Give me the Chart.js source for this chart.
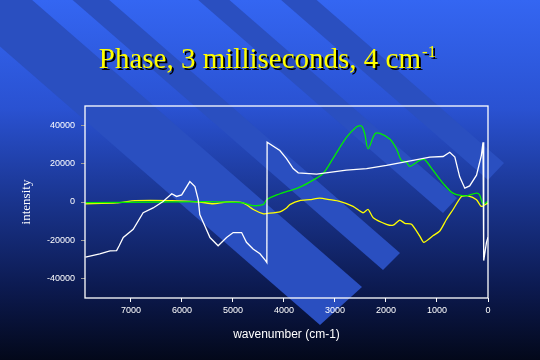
<!DOCTYPE html>
<html>
<head>
<meta charset="utf-8">
<script src="https://cdn.jsdelivr.net/npm/chart.js@4"></script>
<style>
  html, body { margin: 0; padding: 0; background: #03081a; }
  #wrap { width: 540px; height: 360px; }
</style>
</head>
<body>
<div id="wrap"><canvas id="phaseChart" width="540" height="360"></canvas></div>
<script>
// tick labels
const xTicks = [7000, 6000, 5000, 4000, 3000, 2000, 1000, 0];
const yTicks = [-40000, -20000, 0, 20000, 40000];

// white trace
const whiteWn = [7890, 7610, 7410, 7280, 7230, 7150, 6955, 6760, 6565, 6370, 6200, 6105, 6005, 5845, 5745, 5680, 5650, 5550, 5450, 5290, 5125, 4995, 4830, 4735, 4605, 4470, 4360, 4335, 4330, 4080, 3950, 3820, 3720, 3360, 2775, 2380, 1990, 1470, 1140, 880, 750, 650, 555, 455, 360, 225, 130, 98, 84, 30, 0];
const whiteVals = [-28700, -27000, -25500, -25300, -22800, -18500, -14200, -5600, -3100, 300, 4300, 2900, 3700, 10600, 8000, 1200, -6500, -12500, -18500, -22800, -18500, -15900, -15900, -21000, -24500, -27000, -30500, -31500, 31100, 26800, 22600, 17400, 15200, 14500, 16600, 17400, 19100, 21700, 23400, 23700, 25900, 23400, 13100, 7200, 8400, 14000, 24300, 31100, -30500, -21000, -18300];

// green trace
const greenWn = [7890, 6500, 5500, 4800, 4600, 4400, 4340, 4080, 3950, 3885, 3690, 3430, 3230, 3040, 2775, 2580, 2480, 2415, 2350, 2220, 2120, 1925, 1795, 1700, 1600, 1535, 1340, 1240, 1080, 880, 685, 425, 225, 165, 98, 0];
const greenVals = [-300, 0, 200, -500, -1900, -1200, 1200, 4300, 5400, 5900, 7700, 11400, 14900, 22600, 33600, 39100, 39600, 35400, 27700, 35400, 35700, 32800, 27700, 21700, 20800, 18600, 21700, 22000, 16600, 9700, 4600, 3200, 4600, 3700, -900, 300];

// yellow trace
const yellowWn = [7890, 7280, 6920, 6200, 5650, 5390, 5130, 4800, 4600, 4400, 4340, 4080, 3950, 3885, 3690, 3490, 3300, 3100, 2905, 2645, 2450, 2350, 2250, 1990, 1860, 1730, 1630, 1500, 1340, 1260, 1080, 945, 815, 685, 520, 390, 225, 130, 0];
const yellowVals = [-900, -500, 700, 700, 0, -900, 0, -500, -3900, -6200, -6000, -5100, -3100, -1400, 700, 1200, 2000, 1200, 300, -2300, -5600, -3900, -8200, -11600, -12100, -9400, -11100, -11600, -17600, -21000, -17600, -15100, -9100, -3900, 2900, 3200, 1200, -2300, -500];

function toPoints(xs, ys) {
    return xs.map((x, i) => ({ x: x, y: ys[i] }));
}

// slide background: vertical gradient + flat diagonal bands
const slideBackground = {
    id: 'slideBackground',
    beforeDraw(chart) {
        const ctx = chart.ctx;
        const w = chart.width, h = chart.height;
        ctx.save();
        const g = ctx.createLinearGradient(0, 0, 0, h);
        g.addColorStop(0, '#3466f2');
        g.addColorStop(0.3, '#2a52d2');
        g.addColorStop(0.55, '#1a3590');
        g.addColorStop(0.8, '#0c1a50');
        g.addColorStop(1, '#03081a');
        ctx.fillStyle = g;
        ctx.fillRect(0, 0, w, h);

        // each band: its two lower-right end corners, runs up-left off the canvas
        const bands = [
            [[362, 287], [320, 325]],
            [[400, 253], [383, 270]],
            [[457, 198], [443, 213]],
            [[504, 163], [488, 180]]
        ];
        const dx = Math.cos(Math.atan(0.87)), dy = Math.sin(Math.atan(0.87));
        ctx.fillStyle = '#2a4fc0';
        bands.forEach(b => {
            const [a, c] = b;
            ctx.beginPath();
            ctx.moveTo(a[0], a[1]);
            ctx.lineTo(c[0], c[1]);
            ctx.lineTo(c[0] - dx * 1000, c[1] - dy * 1000);
            ctx.lineTo(a[0] - dx * 1000, a[1] - dy * 1000);
            ctx.closePath();
            ctx.fill();
        });
        ctx.restore();
    }
};

// white frame round the plot and the slide title
const frameAndTitle = {
    id: 'frameAndTitle',
    afterDraw(chart) {
        const ctx = chart.ctx;
        const a = chart.chartArea;
        ctx.save();
        ctx.strokeStyle = '#ffffff';
        ctx.lineWidth = 1.3;
        ctx.strokeRect(a.left, a.top, a.right - a.left, a.bottom - a.top);

        const main = 'Phase, 3 milliseconds, 4 cm';
        const sup = '-1';
        ctx.font = '29px "Liberation Serif", "Times New Roman", serif';
        const mw = ctx.measureText(main).width;
        ctx.font = '17px "Liberation Serif", "Times New Roman", serif';
        const sw = ctx.measureText(sup).width;
        const x0 = 267 - (mw + sw) / 2;
        const base = 68;
        ctx.textBaseline = 'alphabetic';
        ctx.textAlign = 'left';
        [['#000000', 2], ['#ffff00', 0]].forEach(([col, off]) => {
            ctx.fillStyle = col;
            ctx.font = '29px "Liberation Serif", "Times New Roman", serif';
            ctx.fillText(main, x0 + off, base + off);
            ctx.font = '17px "Liberation Serif", "Times New Roman", serif';
            ctx.fillText(sup, x0 + mw + 1 + off, base - 11 + off);
        });
        ctx.restore();
    }
};

const ctx = document.getElementById('phaseChart').getContext('2d');
const phaseChart = new Chart(ctx, {
    type: 'line',
    data: {
        datasets: [{
            label: 'white',
            data: toPoints(whiteWn, whiteVals),
            borderColor: '#ffffff',
            borderWidth: 1.3,
            pointRadius: 0,
            tension: 0
        }, {
            label: 'green',
            data: toPoints(greenWn, greenVals),
            borderColor: '#00ee00',
            borderWidth: 1.3,
            pointRadius: 0,
            tension: 0.3
        }, {
            label: 'yellow',
            data: toPoints(yellowWn, yellowVals),
            borderColor: '#ffff00',
            borderWidth: 1.3,
            pointRadius: 0,
            tension: 0.2
        }]
    },
    options: {
        responsive: false,
        animation: false,
        layout: { padding: { top: 106, right: 52, left: 0, bottom: 0 } },
        plugins: {
            legend: { display: false },
            tooltip: { enabled: false }
        },
        scales: {
            x: {
                type: 'linear',
                reverse: true,
                min: 0,
                max: 7900,
                afterBuildTicks: axis => { axis.ticks = xTicks.map(v => ({ value: v })); },
                afterFit: axis => { axis.height = 62; },
                grid: { drawOnChartArea: false, drawTicks: true, tickLength: 4, color: '#ffffff' },
                border: { display: false },
                ticks: {
                    color: '#ffffff',
                    padding: 3,
                    maxRotation: 0,
                    callback: v => String(v),
                    font: { family: 'Liberation Sans', size: 9 }
                },
                title: {
                    display: true,
                    text: 'wavenumber (cm-1)',
                    color: '#ffffff',
                    font: { family: 'Liberation Sans', size: 12 },
                    padding: { top: 0, bottom: 18 }
                }
            },
            y: {
                min: -50000,
                max: 50000,
                afterBuildTicks: axis => { axis.ticks = yTicks.map(v => ({ value: v })); },
                afterFit: axis => { axis.width = 85; },
                grid: { drawOnChartArea: false, drawTicks: true, tickLength: 4, color: '#9a9a9a' },
                border: { display: false },
                ticks: {
                    color: '#ffffff',
                    padding: 6,
                    callback: v => String(v),
                    font: { family: 'Liberation Sans', size: 9 }
                },
                title: {
                    display: true,
                    text: 'intensity',
                    color: '#ffffff',
                    font: { family: 'Liberation Serif', size: 13 },
                    padding: { top: 19, bottom: 0 }
                }
            }
        }
    },
    plugins: [slideBackground, frameAndTitle]
});
</script>
</body>
</html>
